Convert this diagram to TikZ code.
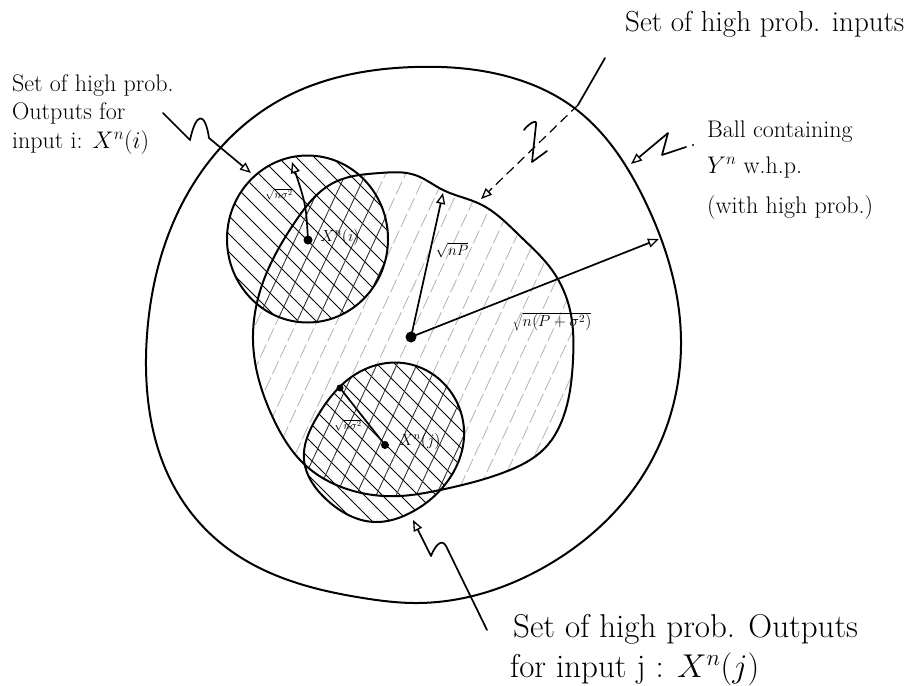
\RequirePackage{fix-cm}
\documentclass[tikz,border=0pt]{standalone}
\usetikzlibrary{arrows.meta,hobby}
\begin{document}
\begin{tikzpicture}[x=1pt,y=-1pt,
  outline/.style={line width=2pt, line join=round, line cap=round},
  annot/.style={line width=1.7pt, line join=round, line cap=round},
  opentip/.style={-{Triangle[open,length=11pt,width=9pt,line width=1.3pt]}},
  bhatch/.style={gray!60, line width=0.8pt, dash pattern=on 14pt off 4pt},
  chatch/.style={black, line width=0.9pt},
  xhatch/.style={black!80, line width=0.8pt},
  lbl/.style={inner sep=0pt, anchor=base west},
  bigtxt/.style={font=\fontsize{24}{28}\selectfont},
  hugetxt/.style={font=\fontsize{33}{38}\selectfont},
  toptxt/.style={font=\fontsize{29}{33}\selectfont},
  mathlbl/.style={inner sep=0pt, font=\fontsize{14}{16}\selectfont},
  smalllbl/.style={inner sep=0pt, font=\fontsize{11}{13}\selectfont},
  hob/.style={use Hobby shortcut, closed=true}]
\fill[white] (0,0) rectangle (917,685);
\useasboundingbox (0,0) rectangle (917,685);

\def\blobpath{(253,340) .. (262,285) .. (295,222) .. (335,182) .. (380,173) .. (415,175) .. (443,190) .. (480,204) .. (520,236) .. (552,270) .. (570,310) .. (573,360) .. (565,412) .. (545,448) .. (505,472) .. (440,490) .. (400,496) .. (350,490) .. (303,463) .. (274,420)}
\def\circonepath{(307.5,239) ellipse [x radius=80.5pt, y radius=83.5pt]}
\def\circtwopath{(403,363) .. (447,387) .. (464,437) .. (447,482) .. (410,513) .. (375,522) .. (327,500) .. (304,460) .. (317,417) .. (350,378)}

% hatching of the set of inputs
\begin{scope}
  \clip[hob] \blobpath;
  \foreach \k in {-14,...,14} \draw[bhatch] ({520+20*\k},100) -- ({306+20*\k},560);
\end{scope}
% hatching of output sets
\begin{scope}
  \clip \circonepath;
  \foreach \k in {-12,...,12} \draw[chatch] ({67+18*\k+120},120) -- ({67+18*\k+360},360);
\end{scope}
\begin{scope}
  \clip[hob] \circtwopath;
  \foreach \k in {-12,...,12} \draw[chatch] ({-59+18*\k+340},340) -- ({-59+18*\k+550},550);
\end{scope}
% cross hatching in the overlaps
\begin{scope}
  \clip \circonepath;
  \clip[hob] \blobpath;
  \foreach \k in {-14,...,14} \draw[xhatch] ({520+20*\k},100) -- ({306+20*\k},560);
\end{scope}
\begin{scope}
  \clip[hob] \circtwopath;
  \clip[hob] \blobpath;
  \foreach \k in {-14,...,14} \draw[xhatch] ({520+20*\k},100) -- ({306+20*\k},560);
\end{scope}

% outlines
\draw[outline, hob] (414,67) .. (513,78) .. (573,107) .. (645,201) .. (681,340) .. (645,472) .. (548,565) .. (414,603) .. (363,598) .. (297,583) .. (240,557) .. (197,520) .. (163,463) .. (148,400) .. (147,335) .. (183,202) .. (280,100);
\draw[outline, hob] \blobpath;
\draw[outline] \circonepath;
\draw[outline, hob] \circtwopath;

% named points
\coordinate (c0) at (411,337);
\coordinate (tipP) at (443,193);
\coordinate (tipR) at (659,239);
\coordinate (ci) at (308,240);
\coordinate (tipI) at (292,162);
\coordinate (cj) at (385,445);
\coordinate (endJ) at (340,388);

% radii
\draw[annot, opentip] (c0) -- (tipP);
\draw[annot, opentip] (c0) -- (tipR);
\draw[annot, opentip] (ci) .. controls (306,205) .. (tipI);
\draw[annot] (cj) -- (endJ);
\fill (c0) circle (5.5pt);
\fill (ci) circle (4.5pt);
\fill (cj) circle (4pt);
\fill (endJ) circle (3.5pt);

\node[mathlbl, font=\fontsize{15}{17}\selectfont] (lnp) at (452,250) {$\sqrt{nP}$};
\node[mathlbl, font=\fontsize{16}{18}\selectfont] (lnps) at (552,322) {$\sqrt{n(P+\sigma^2)}$};
\node[smalllbl] (lsi) at (279,194) {$\sqrt{n\sigma^2}$};
\node[smalllbl] (lsj) at (348,425) {$\sqrt{n\sigma^2}$};
\node[mathlbl, font=\fontsize{16}{18}\selectfont] (lxi) at (340,237) {$X^n(i)$};
\node[mathlbl, font=\fontsize{16}{18}\selectfont] (lxj) at (420,441) {$X^n(j)$};

% texts
\node[lbl, bigtxt] (tl1) at (12,91) {Set of high prob.};
\node[lbl, bigtxt] (tl2) at (12,119) {Outputs for};
\node[lbl, bigtxt] (tl3) at (12,148) {input i: $X^n(i)$};
\node[lbl, toptxt] (tr1) at (625,32) {Set of high prob. inputs};
\node[lbl, bigtxt] (r1) at (707,137) {Ball containing};
\node[lbl, bigtxt] (r2) at (707,173) {$Y^n$ w.h.p.};
\node[lbl, bigtxt] (r3) at (707,213) {(with high prob.)};
\node[lbl, hugetxt] (b1) at (513,637) {Set of high prob. Outputs};
\node[lbl, hugetxt] (b2) at (510,677) {for input j : $X^n(j)$};

% annotation arrows
\coordinate (a1) at (163,113);
\coordinate (a2) at (190,140);
\coordinate (a3) at (209,138);
\coordinate (tipA) at (251,173);
\draw[annot, opentip] (a1) -- (a2) .. controls (196,112) and (205,111) .. (a3) -- (tipA);

\coordinate (s1) at (605,58);
\coordinate (s2) at (578,105);
\coordinate (tipS) at (481,199);
\draw[annot] (s1) -- (s2);
\draw[annot, opentip, line width=1.2pt, dash pattern=on 9pt off 6pt] (s2) -- (tipS);
\coordinate (z1) at (524,130);
\coordinate (z2) at (536,125);
\coordinate (z3) at (532,162);
\coordinate (z4) at (547,151);
\draw[annot] (z1) .. controls (528,124) and (538,118) .. (z2) -- (z3) -- (z4);

\coordinate (g0) at (693,145);
\coordinate (g1) at (686,147);
\coordinate (g2) at (662,155);
\coordinate (g3) at (668,133);
\coordinate (tipG) at (631,164);
\draw[annot, opentip] (g1) -- (g2) -- (g3) -- (tipG);
\fill (g0) circle (1.2pt);

\coordinate (h1) at (487,630);
\coordinate (h2) at (446,546);
\coordinate (h3) at (431,556);
\coordinate (tipH) at (413,520);
\draw[annot, opentip] (h1) -- (h2) .. controls (441,537) and (434,548) .. (h3) -- (tipH);
\end{tikzpicture}
\end{document}
